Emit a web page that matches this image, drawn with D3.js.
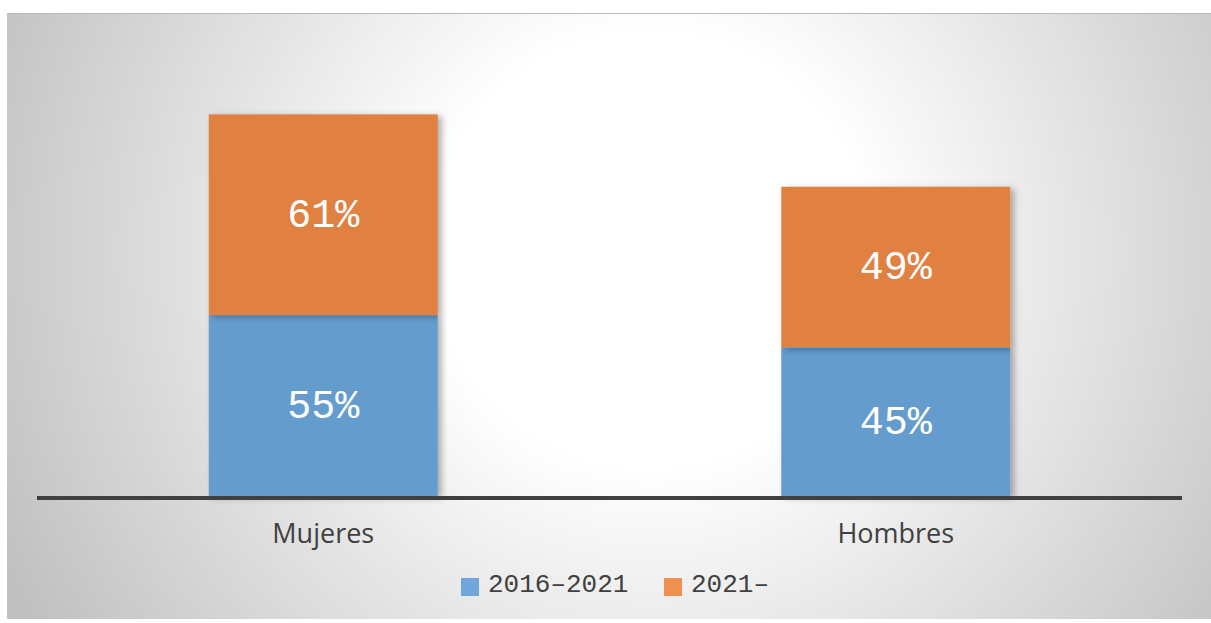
<!DOCTYPE html>
<html>
<head>
    <title>Chart</title>
    <script src="https://d3js.org/d3.v7.min.js"></script>
    <style>
        body { margin: 0; background: #fff; }
        svg { display: block; }
    </style>
</head>
<body>
    <svg id="chart"></svg>
    <script>
        const categories = ["Mujeres", "Hombres"];
        const seriesNames = ["2016\u20132021", "2021\u2013"];
        const serie2016 = [55, 45];
        const serie2021 = [61, 49];
        const colors = ["#659cce", "#e08142"];
        const legendColors = ["#6fa7dc", "#f0904f"];

        const width = 1211;
        const height = 623;
        const baseY = 496;

        const svg = d3.select("#chart")
            .attr("width", width)
            .attr("height", height);

        const defs = svg.append("defs");
        const grad = defs.append("radialGradient")
            .attr("id", "bg")
            .attr("gradientUnits", "userSpaceOnUse")
            .attr("cx", 650).attr("cy", 250).attr("r", 720);
        grad.append("stop").attr("offset", "0").attr("stop-color", "#ffffff");
        grad.append("stop").attr("offset", "0.3").attr("stop-color", "#ffffff");
        grad.append("stop").attr("offset", "1").attr("stop-color", "#c0c0c0");

        const shadow = defs.append("filter")
            .attr("id", "shadow")
            .attr("x", "-10%").attr("y", "-10%")
            .attr("width", "130%").attr("height", "130%");
        shadow.append("feDropShadow")
            .attr("dx", 4).attr("dy", 2)
            .attr("stdDeviation", 3)
            .attr("flood-color", "#000")
            .attr("flood-opacity", 0.3);

        // panel background
        svg.append("rect")
            .attr("x", 7).attr("y", 13)
            .attr("width", width - 7).attr("height", 606)
            .attr("fill", "url(#bg)");
        svg.append("line")
            .attr("x1", 7).attr("x2", width)
            .attr("y1", 13.5).attr("y2", 13.5)
            .attr("stroke", "#b8b8b8");

        const x = d3.scaleBand()
            .domain(categories)
            .range([37, 1182])
            .paddingInner(0.6)
            .paddingOuter(0.3);

        const y = d3.scaleLinear()
            .domain([0, 140])
            .range([baseY, baseY - 140 * 3.29]);

        const data = categories.map((c, i) => ({ cat: c, a: serie2016[i], b: serie2021[i] }));
        const stack = d3.stack().keys(["a", "b"])(data);

        const layers = svg.selectAll(".layer")
            .data(stack)
            .enter().append("g")
            .attr("class", "layer");

        layers.selectAll("rect")
            .data((d, i) => d.map(p => ({ p: p, i: i })))
            .enter().append("rect")
            .attr("x", d => x(d.p.data.cat))
            .attr("y", d => y(d.p[1]))
            .attr("width", x.bandwidth())
            .attr("height", d => y(d.p[0]) - y(d.p[1]))
            .attr("fill", d => colors[d.i])
            .attr("filter", "url(#shadow)");

        // value labels
        layers.selectAll("text")
            .data(d => d)
            .enter().append("text")
            .attr("x", d => x(d.data.cat) + x.bandwidth() / 2)
            .attr("y", d => (y(d[0]) + y(d[1])) / 2 - 2)
            .attr("dy", "0.35em")
            .attr("text-anchor", "middle")
            .style("font-family", "'Liberation Mono', monospace")
            .style("font-size", "40px")
            .style("fill", "#fff")
            .text(d => (d[1] - d[0]) + "%");

        // axis
        const xAxis = svg.append("g")
            .attr("transform", `translate(0,${baseY})`)
            .call(d3.axisBottom(x).tickSize(0).tickPadding(28));
        xAxis.select(".domain")
            .attr("stroke", "#404040")
            .attr("stroke-width", 4)
            .attr("d", "M37,2H1182");
        xAxis.selectAll("text")
            .style("font-family", "'Open Sans', sans-serif")
            .style("font-size", "27px")
            .style("fill", "#404040");

        // legend
        const legend = svg.append("g")
            .attr("transform", "translate(461,578)");
        const legX = [0, 203];
        seriesNames.forEach((name, i) => {
            const item = legend.append("g").attr("transform", `translate(${legX[i]},0)`);
            item.append("rect")
                .attr("width", 18).attr("height", 18)
                .attr("fill", legendColors[i]);
            item.append("text")
                .attr("x", 27).attr("y", 5)
                .attr("dy", "0.35em")
                .style("font-family", "'Liberation Mono', monospace")
                .style("font-size", "26px")
                .style("fill", "#404040")
                .text(name);
        });
    </script>
</body>
</html>
